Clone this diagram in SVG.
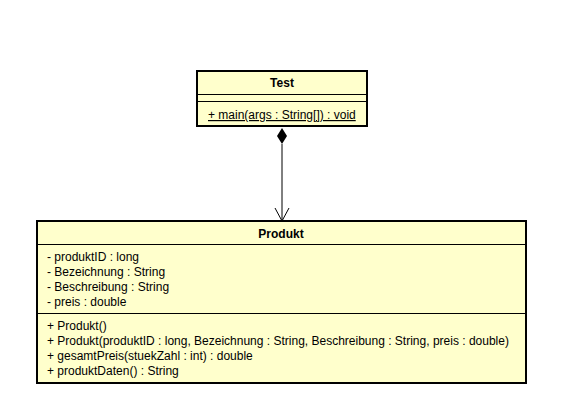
<svg xmlns="http://www.w3.org/2000/svg" width="566" height="405" viewBox="0 0 566 405">
<style>
.box{fill:#FFFFCC;stroke:#000;stroke-width:2}
.div{stroke:#000;stroke-width:1}
text{font-family:"Liberation Sans",Arial,sans-serif;font-size:12px;fill:#000}
.title{font-weight:bold;text-anchor:middle}
.line{stroke:#000;stroke-width:1;fill:none}
</style>
<rect width="566" height="405" fill="#fff"/>
<g id="connectors">
<line class="line" x1="282" y1="144" x2="282" y2="221"/>
<polygon points="282,128 287,136 282,144 277,136" fill="#000"/>
<polyline class="line" points="275,208 282,221 289,208"/>
</g>
<g id="Test">
<rect class="box" x="197" y="71" width="170" height="55"/>
<line class="div" x1="197" y1="94.5" x2="367" y2="94.5"/>
<line class="div" x1="197" y1="101.5" x2="367" y2="101.5"/>
<text class="title" x="282" y="87">Test</text>
<text x="208" y="119" text-decoration="underline">+ main(args : String[]) : void</text>
</g>
<g id="Produkt">
<rect class="box" x="37" y="221" width="489" height="162"/>
<line class="div" x1="37" y1="244.5" x2="526" y2="244.5"/>
<line class="div" x1="37" y1="313.5" x2="526" y2="313.5"/>
<text class="title" x="281" y="238">Produkt</text>
<text x="47" y="261">- produktID : long</text>
<text x="47" y="276">- Bezeichnung : String</text>
<text x="47" y="291">- Beschreibung : String</text>
<text x="47" y="306">- preis : double</text>
<text x="47" y="330">+ Produkt()</text>
<text x="47" y="345">+ Produkt(produktID : long, Bezeichnung : String, Beschreibung : String, preis : double)</text>
<text x="47" y="360">+ gesamtPreis(stuekZahl : int) : double</text>
<text x="47" y="375">+ produktDaten() : String</text>
</g>
</svg>
